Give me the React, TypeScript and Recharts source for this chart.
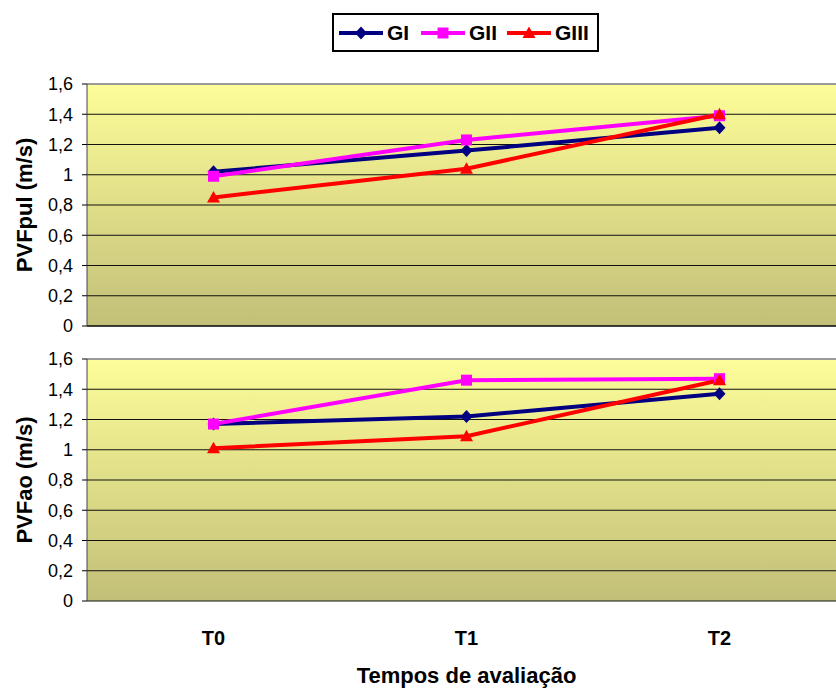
import React from 'react';
import {
  LineChart,
  Line,
  XAxis,
  YAxis,
  CartesianGrid,
  ReferenceLine,
} from 'recharts';

// ---------- data ----------
const categories = ['T0', 'T1', 'T2'];
const seriesNames = ['GI', 'GII', 'GIII'];

const pulGI = [1.02, 1.16, 1.31];
const pulGII = [0.99, 1.23, 1.39];
const pulGIII = [0.85, 1.04, 1.4];

const aoGI = [1.17, 1.22, 1.37];
const aoGII = [1.17, 1.46, 1.47];
const aoGIII = [1.01, 1.09, 1.46];

const yTicks = [0, 0.2, 0.4, 0.6, 0.8, 1, 1.2, 1.4, 1.6];
const bandTicks = [0, 1, 2, 3];

const yTitleTop = 'PVFpul (m/s)';
const yTitleBottom = 'PVFao (m/s)';
const xTitle = 'Tempos de avaliação';

// ---------- styles ----------
const colors = ['#000080', '#FF00FF', '#FF0000'];
const FONT = '"Liberation Sans", Arial, sans-serif';

const buildRows = (a: number[], b: number[], c: number[]) =>
  categories.map((t, i) => ({ t, [seriesNames[0]]: a[i], [seriesNames[1]]: b[i], [seriesNames[2]]: c[i] }));

const pulData = buildRows(pulGI, pulGII, pulGIII);
const aoData = buildRows(aoGI, aoGII, aoGIII);

const fmt = (v: number) => String(v).replace('.', ',');

const markerPath = (shape: number, cx: number, cy: number) => {
  if (shape === 0) return `M${cx},${cy - 6.5}L${cx + 6},${cy}L${cx},${cy + 6.5}L${cx - 6},${cy}Z`;
  if (shape === 1) return `M${cx - 5.5},${cy - 5.5}h11v11h-11Z`;
  return `M${cx},${cy - 6.5}L${cx + 6.5},${cy + 5}L${cx - 6.5},${cy + 5}Z`;
};

const makeDot = (shape: number, color: string) => (p: any) => {
  if (p.cx == null || p.cy == null) return <g key={`d${shape}-${p.index}`} />;
  return <path key={`d${shape}-${p.index}`} d={markerPath(shape, p.cx, p.cy)} fill={color} stroke="none" />;
};

const YLabel = (text: string) => (props: any) => {
  const vb = props.viewBox || {};
  const cx = 24;
  const cy = (vb.y ?? 0) + (vb.height ?? 0) / 2;
  return (
    <text
      x={cx}
      y={cy}
      transform={`rotate(-90, ${cx}, ${cy})`}
      textAnchor="middle"
      dominantBaseline="central"
      style={{ fontFamily: FONT, fontWeight: 'bold', fontSize: 22, fill: '#000' }}
    >
      {text}
    </text>
  );
};

const Gradient = ({ id }: { id: string }) => (
  <defs>
    <linearGradient id={id} x1="0" y1="0" x2="0" y2="1">
      <stop offset="0%" stopColor="#FDFD99" />
      <stop offset="100%" stopColor="#C2BF78" />
    </linearGradient>
  </defs>
);

const tickStyle = { fontFamily: FONT, fontSize: 18, fill: '#000' };

const renderLines = () =>
  seriesNames.map((name, i) => (
    <Line
      key={name}
      dataKey={name}
      type="linear"
      stroke={colors[i]}
      strokeWidth={4}
      dot={makeDot(i, colors[i])}
      activeDot={false}
      isAnimationActive={false}
    />
  ));

const Panel = ({
  data,
  gradId,
  yTitle,
  height,
  marginTop,
  marginBottom,
  bottom,
}: {
  data: any[];
  gradId: string;
  yTitle: string;
  height: number;
  marginTop: number;
  marginBottom: number;
  bottom: boolean;
}) => (
  <LineChart
    width={860}
    height={height}
    data={data}
    margin={{ top: marginTop, right: 14, left: 0, bottom: marginBottom }}
  >
    <Gradient id={gradId} />
    <CartesianGrid horizontal vertical={false} stroke="#111" fill={`url(#${gradId})`} fillOpacity={1} />
    <XAxis
      xAxisId="band"
      type="number"
      domain={[0, 3]}
      ticks={bandTicks}
      allowDataOverflow
      tick={false}
      tickSize={6}
      tickLine={{ stroke: '#000' }}
      axisLine={{ stroke: '#000' }}
      height={bottom ? 0 : 8}
    />
    <XAxis
      dataKey="t"
      scale="band"
      hide={!bottom}
      axisLine={false}
      tickLine={false}
      tickSize={0}
      tickMargin={30}
      height={bottom ? 89 : 0}
      tick={{ fontFamily: FONT, fontSize: 20, fontWeight: 'bold', fill: '#000' }}
      label={
        bottom
          ? {
              value: xTitle,
              position: 'insideBottom',
              offset: 7,
              style: { fontFamily: FONT, fontSize: 22, fontWeight: 'bold', fill: '#000' },
            }
          : undefined
      }
    />
    <YAxis
      width={87}
      domain={[0, 1.6]}
      ticks={yTicks}
      interval={0}
      tickFormatter={fmt}
      tickSize={5}
      tickMargin={9}
      tick={tickStyle}
      tickLine={{ stroke: '#000' }}
      axisLine={{ stroke: '#444' }}
      label={YLabel(yTitle)}
    />
    <ReferenceLine y={1.6} stroke="#9A9A9A" strokeWidth={2} />
    {renderLines()}
  </LineChart>
);

const LegendBox = () => (
  <div
    style={{
      position: 'absolute',
      left: 332,
      top: 13,
      width: 263,
      height: 35,
      border: '2px solid #000',
      background: '#fff',
      fontFamily: FONT,
    }}
  >
    {seriesNames.map((name, i) => {
      const left = [4, 86, 172][i];
      return (
        <div key={name} style={{ position: 'absolute', left, top: 0, height: 35, display: 'flex', alignItems: 'center' }}>
          <svg width={46} height={20} style={{ display: 'block' }}>
            <line x1={1} y1={10} x2={45} y2={10} stroke={colors[i]} strokeWidth={4} />
            <path d={markerPath(i, 23, 10)} fill={colors[i]} />
          </svg>
          <span style={{ fontSize: 21, fontWeight: 'bold', marginLeft: 3, lineHeight: '35px' }}>{name}</span>
        </div>
      );
    })}
  </div>
);

export default function App() {
  return (
    <div style={{ position: 'absolute', left: 0, top: 0, width: 836, height: 690, overflow: 'hidden', background: '#fff' }}>
      <div style={{ position: 'absolute', left: 0, top: 334 }}>
        <Panel data={aoData} gradId="gradAo" yTitle={yTitleBottom} height={356} marginTop={25} marginBottom={0} bottom />
      </div>
      <div style={{ position: 'absolute', left: 0, top: 0 }}>
        <Panel data={pulData} gradId="gradPul" yTitle={yTitleTop} height={342} marginTop={84} marginBottom={8} bottom={false} />
      </div>
      <LegendBox />
    </div>
  );
}
